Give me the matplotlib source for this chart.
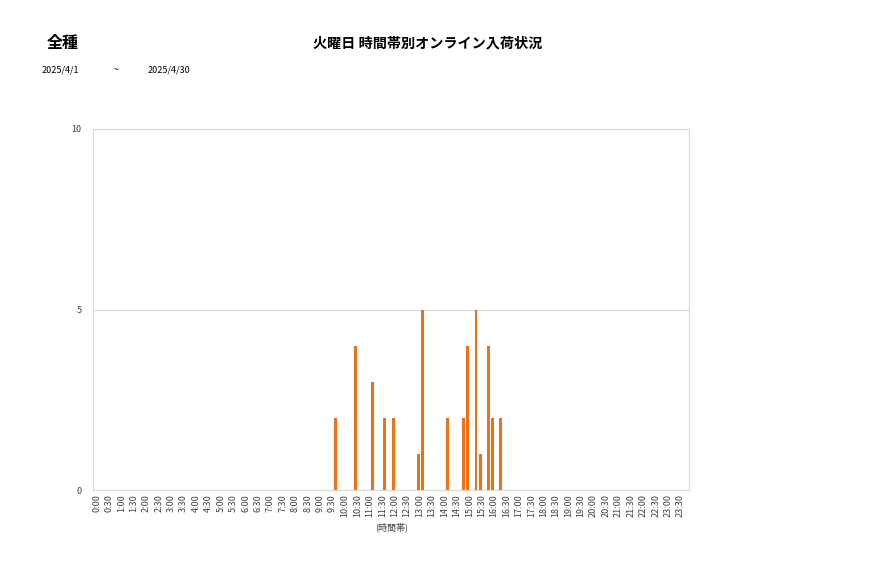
import matplotlib
matplotlib.use("Agg")
import matplotlib.pyplot as plt
import matplotlib.transforms as mtransforms
import numpy as np

plt.rcParams['font.family'] = ['Noto Sans CJK JP', 'DejaVu Sans']

# 10分刻みの時間帯 (0:00 ~ 23:50)
slots = [f"{h}:{m:02d}" for h in range(24) for m in range(0, 60, 10)]

# 入荷のあった時間帯と件数
hit_times = ['9:40', '10:30', '11:10', '11:40', '12:00', '13:00', '13:10', '14:10',
             '14:50', '15:00', '15:20', '15:30', '15:50', '16:00', '16:20']
hit_counts = [2, 4, 3, 2, 2, 1, 5, 2, 2, 4, 5, 1, 4, 2, 2]

values = np.zeros(len(slots))
for t, c in zip(hit_times, hit_counts):
    values[slots.index(t)] = c

# 30分ごとにラベル表示
tick_labels = [s if s.endswith(':00') or s.endswith(':30') else '' for s in slots]

fig = plt.figure(figsize=(8.77, 5.78), dpi=100)
ax = fig.add_axes([0.106, 0.152, 0.680, 0.625])

x = np.arange(len(slots))
ax.bar(x, values, width=0.7, color='#f07016', zorder=3)

ax.set_xlim(-0.5, len(slots) - 0.5)
ax.set_ylim(0, 10)
ax.set_yticks([0, 5, 10])
ax.yaxis.grid(True, color='#d9d9d9', linewidth=0.8, zorder=0)

label_idx = [i for i, s in enumerate(tick_labels) if s]
ax.set_xticks(label_idx)
ax.set_xticklabels([tick_labels[i] for i in label_idx], rotation=90, fontsize=6.5, color='#404040')
ax.tick_params(axis='both', length=0, pad=3)
ax.tick_params(axis='y', labelsize=6.5, labelcolor='#404040', pad=8)

# ラベルを少し右へ
shift = mtransforms.ScaledTranslation(1.5 / 100, 0, fig.dpi_scale_trans)
for lbl in ax.get_xticklabels():
    lbl.set_transform(lbl.get_transform() + shift)

for sp in ax.spines.values():
    sp.set_color('#d9d9d9')
    sp.set_linewidth(0.8)

ax.set_xlabel('(時間帯)', fontsize=6.5, color='#404040', labelpad=4)

fig.text(63 / 877, 1 - 43 / 578, '全種', fontsize=11.5, fontweight='bold', ha='center', va='center')
fig.text(428 / 877, 1 - 43 / 578, '火曜日 時間帯別オンライン入荷状況', fontsize=10.2, fontweight='bold',
         ha='center', va='center')
fig.text(42 / 877, 1 - 70 / 578, '2025/4/1', fontsize=6.5, ha='left', va='center')
fig.text(116 / 877, 1 - 70 / 578, '~', fontsize=6.5, ha='center', va='center')
fig.text(148 / 877, 1 - 70 / 578, '2025/4/30', fontsize=6.5, ha='left', va='center')

fig.savefig('out.png', dpi=100)
